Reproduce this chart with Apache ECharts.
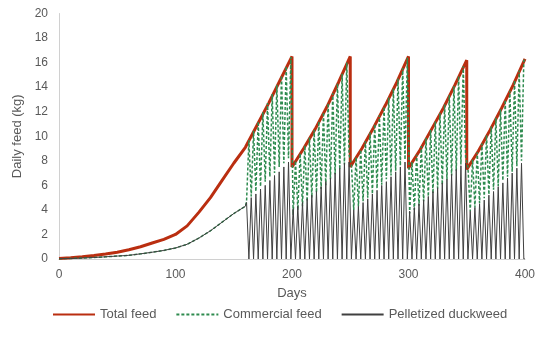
<!DOCTYPE html>
<html>
<head>
<meta charset="utf-8">
<script src="https://cdn.jsdelivr.net/npm/echarts@6/dist/echarts.min.js"></script>
<style>
html,body{margin:0;padding:0;background:#fff;}
#chart{width:550px;height:337px;}
</style>
</head>
<body>
<div id="chart"></div>
<script>
// ---- Data ----
var xTicks = [0, 100, 200, 300, 400];
var yTicks = [0, 2, 4, 6, 8, 10, 12, 14, 16, 18, 20];

// Growth phase (days 0-160): both feeds given together
var preDays = [0, 10, 20, 30, 40, 50, 60, 70, 80, 90, 100, 110, 120, 130, 140, 150, 160];
var duckweedPre = [0.02, 0.04, 0.08, 0.12, 0.18, 0.24, 0.3, 0.42, 0.55, 0.7, 0.9, 1.2, 1.7, 2.3, 3.0, 3.7, 4.3];
var commercialPre = [0.02, 0.04, 0.08, 0.12, 0.18, 0.24, 0.3, 0.42, 0.55, 0.7, 0.9, 1.2, 1.7, 2.3, 3.0, 3.7, 4.3];

// Total feed (drops at harvest days appear as repeated day values)
var totalDays = [0, 10, 20, 30, 40, 50, 60, 70, 80, 90, 100, 110, 120, 130, 140, 150, 160,
  170, 180, 190, 200, 200, 210, 220, 230, 240, 250, 250, 260, 270, 280, 290, 300, 300,
  310, 320, 330, 340, 350, 350, 360, 370, 380, 390, 400];
var totalFeed = [0.05, 0.1, 0.18, 0.28, 0.4, 0.55, 0.75, 1.0, 1.3, 1.6, 2.0, 2.7, 3.8, 5.0, 6.4, 7.8, 9.1,
  10.9, 12.7, 14.6, 16.5, 7.5, 9.0, 10.6, 12.4, 14.4, 16.5, 7.5, 9.0, 10.7, 12.5, 14.4, 16.5, 7.4,
  8.9, 10.6, 12.3, 14.2, 16.2, 7.3, 8.8, 10.5, 12.3, 14.2, 16.3];

// Alternating phase (days 160-400): 4-day cycles, 2 duckweed days then 2 commercial-only days
var cycleStartDays = [160, 164, 168, 172, 176, 180, 184, 188, 192, 196,
  200, 204, 208, 212, 216, 220, 224, 228, 232, 236,
  240, 244, 248, 252, 256, 260, 264, 268, 272, 276,
  280, 284, 288, 292, 296, 300, 304, 308, 312, 316,
  320, 324, 328, 332, 336, 340, 344, 348, 352, 356,
  360, 364, 368, 372, 376, 380, 384, 388, 392, 396];
var duckweedPeak = [4.6, 5.0, 5.3, 5.7, 6.0, 6.4, 6.8, 7.1, 7.5, 7.9,
  4.1, 4.3, 4.6, 4.9, 5.2, 5.5, 5.9, 6.3, 6.6, 7.0,
  7.4, 7.8, 7.9, 4.0, 4.3, 4.6, 4.9, 5.3, 5.6, 6.0,
  6.3, 6.7, 7.1, 7.5, 7.9, 3.9, 4.2, 4.5, 4.8, 5.1,
  5.5, 5.8, 6.2, 6.5, 6.9, 7.3, 7.6, 7.8, 3.9, 4.2,
  4.5, 4.8, 5.2, 5.5, 5.9, 6.2, 6.6, 7.0, 7.4, 7.8];
var commercialLow = [4.7, 5.1, 5.5, 5.9, 6.3, 6.7, 7.0, 7.5, 7.8, 8.2,
  3.6, 4.0, 4.3, 4.7, 5.0, 5.4, 5.7, 6.0, 6.5, 6.9,
  7.3, 7.7, 8.5, 4.0, 4.3, 4.7, 5.0, 5.3, 5.75, 6.05,
  6.5, 6.8, 7.2, 7.6, 8.1, 3.7, 4.0, 4.35, 4.7, 5.1,
  5.35, 5.75, 6.05, 6.45, 6.8, 7.2, 7.7, 8.3, 3.9, 4.2,
  4.55, 4.95, 5.25, 5.65, 5.95, 6.4, 6.7, 7.1, 7.55, 8.0];
var commercialHigh = [9.7, 10.45, 11.2, 11.95, 12.7, 13.45, 14.2, 14.95, 15.7, 16.45,
  8.0, 8.6, 9.25, 9.9, 10.5, 11.2, 11.95, 12.7, 13.5, 14.3,
  15.1, 16.0, 7.7, 8.3, 8.9, 9.6, 10.3, 11.0, 11.7, 12.4,
  13.15, 13.9, 14.7, 15.55, 16.4, 7.9, 8.5, 9.2, 9.85, 10.5,
  11.2, 11.9, 12.6, 13.35, 14.1, 14.9, 15.7, 7.5, 8.1, 8.7,
  9.4, 10.1, 10.8, 11.5, 12.2, 12.95, 13.7, 14.55, 15.35, 16.2];

// ---- Build series data ----
var totalData = totalDays.map(function (d, i) { return [d, totalFeed[i]]; });
var duckData = preDays.map(function (d, i) { return [d, duckweedPre[i]]; });
var commData = preDays.map(function (d, i) { return [d, commercialPre[i]]; });
cycleStartDays.forEach(function (c, i) {
  duckData.push([c + 1, duckweedPeak[i]], [c + 2, duckweedPeak[i]], [c + 3, 0], [c + 4, 0]);
  commData.push([c + 1, commercialLow[i]], [c + 2, commercialLow[i]], [c + 3, commercialHigh[i]], [c + 4, commercialHigh[i]]);
});

var txt = '#595959';
var font = 'Liberation Sans, Arial, sans-serif';
var chart = echarts.init(document.getElementById('chart'), null, {renderer: 'canvas'});
chart.setOption({
  animation: false,
  backgroundColor: '#ffffff',
  grid: {left: 59, right: 25, top: 13.5, bottom: 78, containLabel: false},
  xAxis: {
    type: 'value', min: xTicks[0], max: xTicks[xTicks.length - 1], interval: 100,
    name: 'Days', nameLocation: 'middle', nameGap: 28,
    nameTextStyle: {color: txt, fontSize: 13, fontFamily: font},
    axisLine: {show: true, lineStyle: {color: '#d0d0d0', width: 1}},
    axisTick: {show: false},
    splitLine: {show: false},
    axisLabel: {color: txt, fontSize: 12, fontFamily: font, margin: 10}
  },
  yAxis: {
    type: 'value', min: yTicks[0], max: yTicks[yTicks.length - 1], interval: 2,
    name: 'Daily feed (kg)', nameLocation: 'middle', nameGap: 25,
    nameTextStyle: {color: txt, fontSize: 13, fontFamily: font},
    axisLine: {show: true, lineStyle: {color: '#d0d0d0', width: 1}},
    axisTick: {show: false},
    splitLine: {show: false},
    axisLabel: {color: txt, fontSize: 12, fontFamily: font, margin: 11}
  },
  legend: {
    bottom: 11, left: 47, itemWidth: 42, itemHeight: 10, itemGap: 19,
    itemStyle: {opacity: 0},
    textStyle: {color: txt, fontSize: 13, fontFamily: font},
    data: ['Total feed', 'Commercial feed', 'Pelletized duckweed']
  },
  series: [
    {name: 'Total feed', type: 'line', data: totalData, showSymbol: false, symbol: 'none',
      lineStyle: {color: '#BA2E10', width: 3}, itemStyle: {color: '#BA2E10'}, z: 1},
    {name: 'Commercial feed', type: 'line', data: commData, showSymbol: false, symbol: 'none',
      lineStyle: {color: '#2E8B4F', width: 1.5, type: [3, 2]}, itemStyle: {color: '#2E8B4F'}, z: 2},
    {name: 'Pelletized duckweed', type: 'line', data: duckData, showSymbol: false, symbol: 'none',
      lineStyle: {color: '#404040', width: 1}, itemStyle: {color: '#404040'}, z: 3}
  ]
});
</script>
</body>
</html>
